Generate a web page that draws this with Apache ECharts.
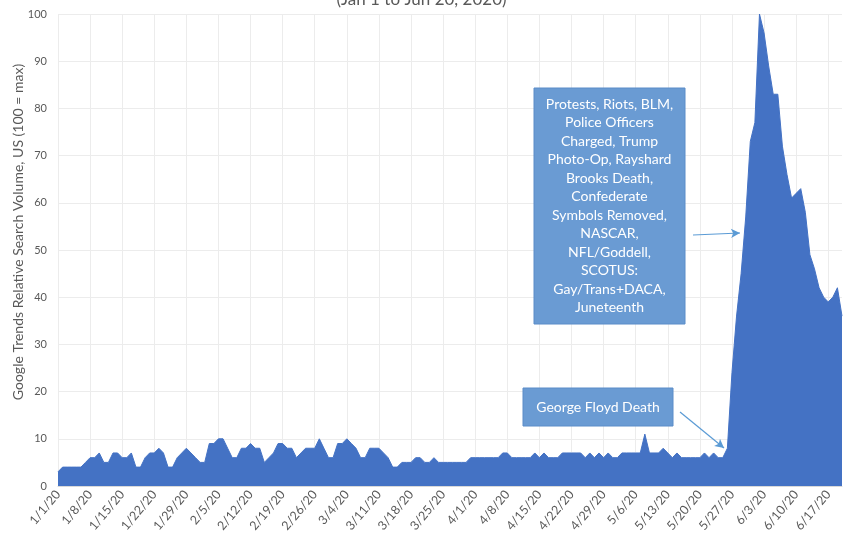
<!DOCTYPE html>
<html>
<head>
<meta charset="utf-8">
<script src="https://cdn.jsdelivr.net/npm/echarts@6/dist/echarts.min.js"></script>
<style>
html,body{margin:0;padding:0;background:#fff;}
#chart{width:843px;height:537px;}
</style>
</head>
<body>
<div id="chart"></div>
<script>
// Daily dates Jan 1 – Jun 20, 2020 (category labels)
const startDate = Date.UTC(2020, 0, 1);
const dayCount = 172;
const dates = [];
for (let i = 0; i < dayCount; i++) {
  const d = new Date(startDate + i * 86400000);
  dates.push((d.getUTCMonth() + 1) + '/' + d.getUTCDate() + '/20');
}

// Google Trends relative search volume
const searchVolume = [
  3,4,4,4,4,4,5,6,6,7,5,5,7,7,6,6,7,4,4,6,7,7,8,7,4,4,6,7,8,7,
  6,5,5,9,9,10,10,8,6,6,8,8,9,8,8,5,6,7,9,9,8,8,6,7,8,8,8,10,8,6,
  6,9,9,10,9,8,6,6,8,8,8,7,6,4,4,5,5,5,6,6,5,5,6,5,5,5,5,5,5,5,
  6,6,6,6,6,6,6,7,7,6,6,6,6,6,7,6,7,6,6,6,7,7,7,7,7,6,7,6,7,6,
  7,6,6,7,7,7,7,7,11,7,7,7,8,7,6,7,6,6,6,6,6,7,6,7,6,6,8,24,36,45,
  57,73,77,100,96,89,83,83,72,66,61,62,63,58,49,46,42,40,39,40,42,36
];

const yTicks = { min: 0, max: 100, interval: 10 };
const titleText = '(Jan 1 to Jun 20, 2020)';
const yAxisTitle = 'Google Trends Relative Search Volume, US (100 = max)';
const noteMain = ['Protests, Riots, BLM,','Police Officers','Charged, Trump','Photo-Op, Rayshard','Brooks Death,','Confederate','Symbols Removed,','NASCAR,','NFL/Goddell,','SCOTUS:','Gay/Trans+DACA,','Juneteenth'];
const noteFloyd = 'George Floyd Death';

const FONT = 'Lato, "Open Sans", sans-serif';
const chart = echarts.init(document.getElementById('chart'));
chart.setOption({
  animation: false,
  backgroundColor: '#ffffff',
  grid: { left: 58, top: 14, right: 1, bottom: 51, containLabel: false },
  xAxis: {
    type: 'category',
    data: dates,
    boundaryGap: false,
    axisLine: { show: true, lineStyle: { color: '#d9d9d9' } },
    axisTick: { show: false },
    axisLabel: { interval: 6, rotate: 50, fontSize: 12.5, color: '#595959', fontFamily: FONT, margin: 6 },
    splitLine: { show: true, interval: 6, lineStyle: { color: '#ececec', width: 1 } }
  },
  yAxis: {
    type: 'value',
    min: yTicks.min, max: yTicks.max, interval: yTicks.interval,
    axisLine: { show: false },
    axisTick: { show: false },
    axisLabel: { fontSize: 11, color: '#595959', fontFamily: FONT, margin: 11 },
    splitLine: { show: true, lineStyle: { color: '#ececec', width: 1 } }
  },
  series: [{
    type: 'line',
    data: searchVolume,
    symbol: 'none',
    lineStyle: { width: 1, color: '#4472C4' },
    areaStyle: { color: '#4472C4', opacity: 1 },
    markLine: {
      silent: true,
      symbol: ['none', 'arrow'],
      symbolSize: [7, 9],
      label: { show: false },
      lineStyle: { color: '#5b9bd5', width: 1.2, type: 'solid' },
      data: [
        [{ x: 693, y: 235 }, { x: 740, y: 233 }],
        [{ x: 680, y: 412 }, { x: 724, y: 448 }]
      ]
    }
  }],
  graphic: [
    { type: 'text', z: 100, left: 'center', top: -9, style: { text: titleText, fontSize: 17, fill: '#595959', fontFamily: FONT } },
    { type: 'text', z: 100, x: 18, y: 232, rotation: Math.PI / 2, style: { text: yAxisTitle, fontSize: 14, fill: '#595959', fontFamily: FONT, align: 'center', verticalAlign: 'middle' } },
    { type: 'rect', z: 100, shape: { x: 534, y: 88, width: 151, height: 236 }, style: { fill: '#6a9bd3', stroke: '#5b8cc8', lineWidth: 1 } },
    { type: 'text', z: 101, x: 609.5, y: 206, style: { text: noteMain.join('\n'), fontSize: 14, lineHeight: 18.5, fill: '#ffffff', fontFamily: FONT, align: 'center', verticalAlign: 'middle' } },
    { type: 'rect', z: 100, shape: { x: 523, y: 388, width: 150, height: 38 }, style: { fill: '#6a9bd3', stroke: '#5b8cc8', lineWidth: 1 } },
    { type: 'text', z: 101, x: 598, y: 407, style: { text: noteFloyd, fontSize: 14, fill: '#ffffff', fontFamily: FONT, align: 'center', verticalAlign: 'middle' } }
  ]
});
</script>
</body>
</html>
